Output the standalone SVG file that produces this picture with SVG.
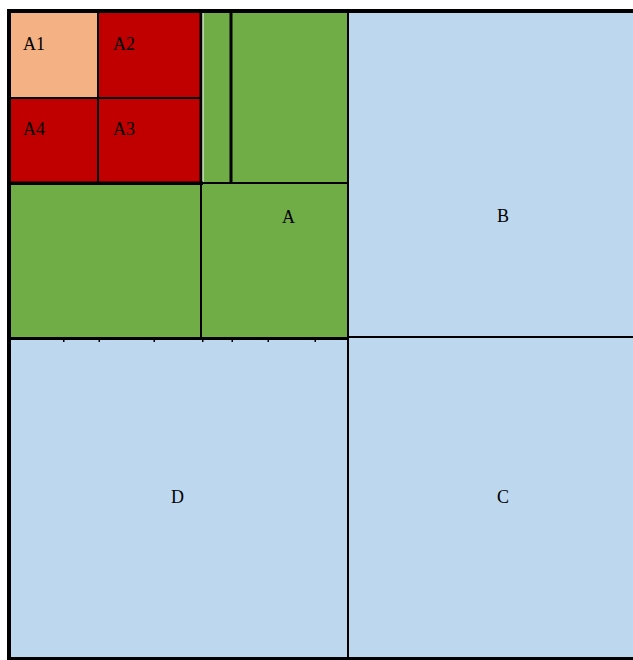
<svg xmlns="http://www.w3.org/2000/svg" width="633" height="660" viewBox="0 0 633 660">
<style>
.blue{fill:#BDD7EE}
.green{fill:#70AD47}
.red{fill:#C00000}
.peach{fill:#F4B183}
.ln{fill:#000}
text{font-family:"Liberation Serif","Times New Roman",serif;font-size:18px;fill:#000}
</style>
<rect width="633" height="660" fill="#fff"/>
<g id="A">
<rect class="green" x="11" y="13" width="337" height="324"/>
<text x="282" y="223">A</text>
</g>
<g id="B">
<rect class="blue" x="348" y="13" width="285" height="324"/>
<text x="497" y="222">B</text>
</g>
<g id="D">
<rect class="blue" x="11" y="337" width="337" height="320"/>
<text x="171" y="503">D</text>
</g>
<g id="C">
<rect class="blue" x="348" y="337" width="285" height="320"/>
<text x="497" y="503">C</text>
</g>
<g id="A1">
<rect class="peach" x="11" y="13" width="87" height="85"/>
<text x="23" y="50">A1</text>
</g>
<g id="A2">
<rect class="red" x="98" y="13" width="102" height="85"/>
<text x="113" y="50">A2</text>
</g>
<g id="A4">
<rect class="red" x="11" y="98" width="87" height="85"/>
<text x="23" y="135">A4</text>
</g>
<g id="A3">
<rect class="red" x="98" y="98" width="102" height="85"/>
<text x="113" y="135">A3</text>
</g>
<g id="lines">
<rect class="ln" x="7" y="9" width="626" height="4"/>
<rect class="ln" x="7" y="9" width="4" height="651"/>
<rect class="ln" x="7" y="657" width="626" height="3"/>
<rect class="ln" x="347" y="13" width="2" height="644"/>
<rect class="ln" x="348" y="336" width="285" height="2"/>
<rect class="ln" x="11" y="337" width="337" height="3"/>
<rect class="ln" x="97" y="13" width="2" height="170"/>
<rect class="ln" x="11" y="97" width="189" height="2"/>
<rect class="ln" x="199.5" y="13" width="3" height="172"/>
<rect fill="#fff" x="202.5" y="13" width="1" height="169"/>
<rect class="ln" x="11" y="181.5" width="192" height="3.5"/>
<rect class="ln" x="203" y="182" width="145" height="2"/>
<rect class="ln" x="229.5" y="13" width="3" height="169"/>
<rect class="ln" x="200" y="184" width="2" height="153"/>
<rect class="ln" x="63" y="340" width="1.5" height="2"/>
<rect class="ln" x="98.5" y="340" width="1.5" height="2"/>
<rect class="ln" x="153.5" y="340" width="1.5" height="2"/>
<rect class="ln" x="202" y="340" width="1.5" height="2"/>
<rect class="ln" x="231.5" y="340" width="1.5" height="2"/>
<rect class="ln" x="267.5" y="340" width="1.5" height="2"/>
<rect class="ln" x="314.5" y="340" width="1.5" height="2"/>
</g>
</svg>
